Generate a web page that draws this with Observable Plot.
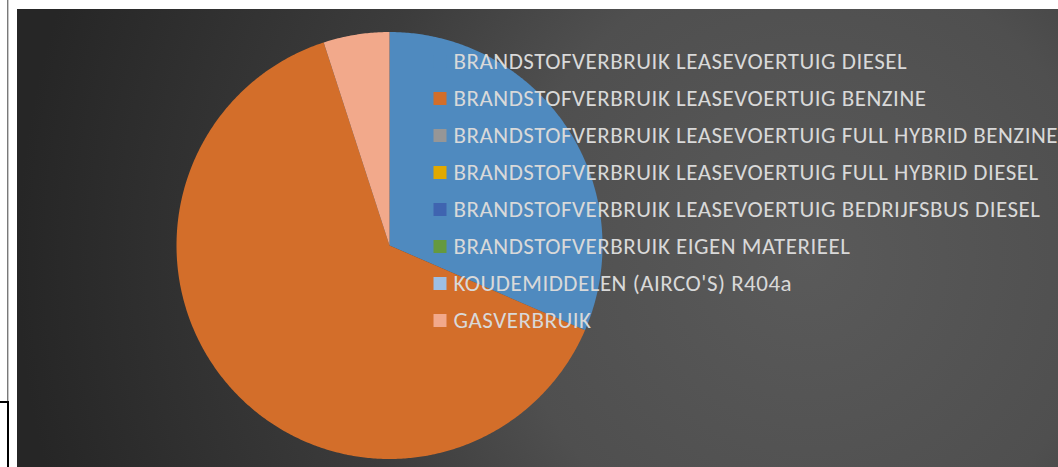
<!DOCTYPE html>
<html>
<head>
<meta charset="utf-8">
<script src="https://cdn.jsdelivr.net/npm/d3@7"></script>
<script src="https://cdn.jsdelivr.net/npm/@observablehq/plot@0.6"></script>
<style>
  html, body { margin: 0; padding: 0; background: #ffffff; }
  #wrap { position: relative; width: 1058px; height: 467px; overflow: hidden; background: #ffffff; }
  #bg { position: absolute; left: 17px; top: 9px; width: 1041px; height: 458px;
        background: radial-gradient(circle at 790px 250px, #5a5a5a 0px, #4f4f4f 300px, #3c3c3c 470px, #262626 790px); }
  .line { position: absolute; }
  #pie, #legend { position: absolute; left: 0; top: 0; }
  #pie svg, #legend svg { background: transparent; overflow: visible; }
  #legend text { letter-spacing: 0.5px; }
</style>
</head>
<body>
<div id="wrap">
  <div class="line" style="left:7px;top:0;width:1px;height:401px;background:#7a7a7a"></div>
  <div class="line" style="left:8px;top:0;width:1px;height:401px;background:#c8c8c8"></div>
  <div class="line" style="left:0;top:401px;width:9px;height:2px;background:#000"></div>
  <div class="line" style="left:7px;top:401px;width:2px;height:66px;background:#000"></div>
  <div id="bg"></div>
  <div id="pie"></div>
  <div id="legend"></div>
</div>
<script>
// ---- data ----
const categories = [
  "BRANDSTOFVERBRUIK LEASEVOERTUIG DIESEL",
  "BRANDSTOFVERBRUIK LEASEVOERTUIG BENZINE",
  "BRANDSTOFVERBRUIK LEASEVOERTUIG FULL HYBRID BENZINE",
  "BRANDSTOFVERBRUIK LEASEVOERTUIG FULL HYBRID DIESEL",
  "BRANDSTOFVERBRUIK LEASEVOERTUIG BEDRIJFSBUS DIESEL",
  "BRANDSTOFVERBRUIK EIGEN MATERIEEL",
  "KOUDEMIDDELEN (AIRCO'S) R404a",
  "GASVERBRUIK"
];
const values = [31.5, 63.5, 0, 0, 0, 0, 0, 5.0];
const colors = ["#4f8abf", "#d36e2a", "#969696", "#e1a900", "#3f64b0", "#65993e", "#9dbfe4", "#f2a98b"];

// ---- pie geometry via d3.pie ----
const arcs = d3.pie().sort(null).value(d => d)(values);
const slices = [];
arcs.forEach((a, i) => {
  if (a.endAngle - a.startAngle <= 0) return;
  const pts = [{name: categories[i], x: 0, y: 0}];
  const n = Math.max(2, Math.ceil((a.endAngle - a.startAngle) / (Math.PI / 360)));
  for (let k = 0; k <= n; ++k) {
    const t = a.startAngle + (a.endAngle - a.startAngle) * k / n;
    pts.push({name: categories[i], x: Math.sin(t), y: Math.cos(t)});
  }
  slices.push({i, pts});
});

const pie = Plot.plot({
  width: 1058,
  height: 467,
  margin: 0,
  x: {domain: [-1, 1], range: [176, 602], axis: null},
  y: {domain: [-1, 1], range: [458.5, 31.5], axis: null},
  marks: slices.map(s => Plot.line(s.pts, {x: "x", y: "y", fill: colors[s.i], stroke: "none", curve: "linear-closed"}))
});
document.getElementById("pie").appendChild(pie);

// ---- legend ----
const legendRows = categories.map((c, i) => ({name: c, color: colors[i]}));
const legend = Plot.plot({
  width: 1058,
  height: 467,
  margin: 0,
  x: {domain: [0, 1058], range: [0, 1058], axis: null},
  y: {type: "point", domain: categories, range: [60.5, 320.5], padding: 0, axis: null},
  marks: [
    Plot.dot(legendRows, {x: () => 439.5, y: "name", symbol: "square", r: 7.33, fill: d => d.color, stroke: "none"}),
    Plot.text(legendRows, {x: () => 453, y: "name", text: "name", textAnchor: "start", fill: "#d9d9d9",
      fontSize: 23, fontFamily: "Carlito, Calibri, Lato, sans-serif"})
  ]
});
document.getElementById("legend").appendChild(legend);
</script>
</body>
</html>
